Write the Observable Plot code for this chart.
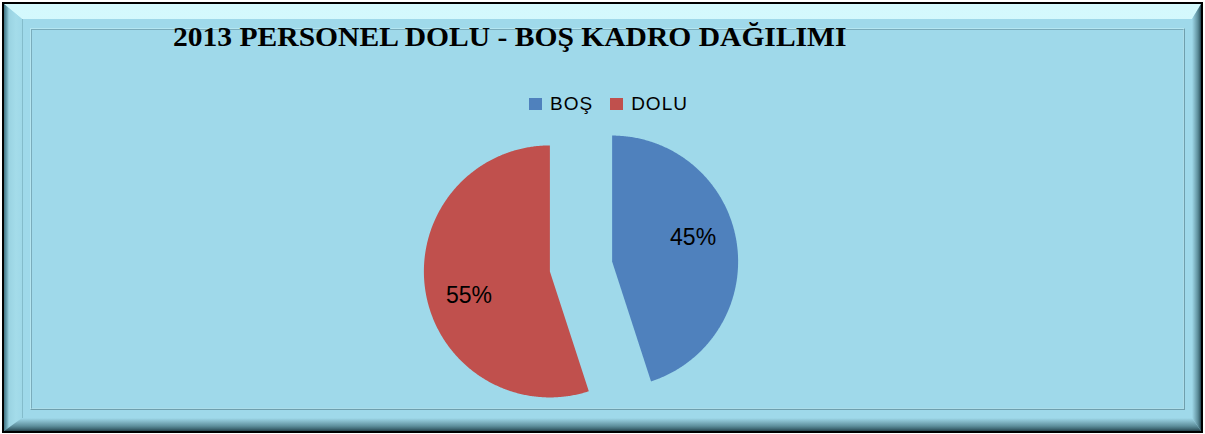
<!DOCTYPE html>
<html>
<head>
<meta charset="utf-8">
<script src="https://cdn.jsdelivr.net/npm/d3@7"></script>
<script src="https://cdn.jsdelivr.net/npm/@observablehq/plot@0.6"></script>
<style>
  html, body { margin: 0; padding: 0; background: #ffffff; }
  #wrap { position: relative; width: 1205px; height: 434px; overflow: hidden; background: #ffffff; }
  .abs { position: absolute; box-sizing: border-box; }
  #title { position: absolute; left: 173px; top: 24px; font-family: "Liberation Serif", "Times New Roman", serif; font-weight: bold; font-size: 27px; color: #000; white-space: nowrap; line-height: 1; transform: scaleX(1.095); transform-origin: 0 0; }
  #legend { position: absolute; left: 529px; top: 94px; height: 19px; display: flex; align-items: center; font-family: "Liberation Sans", Arial, sans-serif; font-size: 19px; letter-spacing: 1px; line-height: 1; color: #000; white-space: nowrap; }
  .sw { display: inline-block; width: 13px; height: 12px; margin-right: 8px; }
  .item { display: flex; align-items: center; margin-right: 17px; }
  #chart { position: absolute; left: 0; top: 0; }
</style>
</head>
<body>
<div id="wrap">
  <!-- frame -->
  <div class="abs" style="left:2px;top:2px;width:1201px;height:431px;border:2px solid #000;"></div>
  <div class="abs" style="left:4px;top:4px;width:1197px;height:427px;background:#9fd9ea;"></div>
  <div class="abs" style="left:4px;top:4px;width:1197px;height:427px;background:linear-gradient(#d4f9fd,#bff0f8);clip-path:polygon(0px 0px,1197px 0px,1188px 15px,18px 15px);"></div>
  <div class="abs" style="left:4px;top:4px;width:1197px;height:427px;background:linear-gradient(to right,#3f7382 0px,#6fa8b8 3px,#9ad3e2 5px,#a4dcea 12px,#9fd8e8 18px);clip-path:polygon(0px 0px,18px 15px,18px 414px,0px 427px);"></div>
  <div class="abs" style="left:4px;top:4px;width:1197px;height:427px;background:linear-gradient(to right,#9fd9ea 1188px,#7fb3c2 1191px,#5b8c99 1194px,#3b6470 1196px,#243f48 1197px);clip-path:polygon(1197px 0px,1197px 427px,1188px 414px,1188px 15px);"></div>
  <div class="abs" style="left:4px;top:4px;width:1197px;height:427px;background:linear-gradient(to bottom,#9fd9ea 414px,#80b4c3 418px,#5e8f9c 422px,#3e6773 425px,#26434c 427px);clip-path:polygon(0px 427px,18px 414px,1188px 414px,1197px 427px);"></div>
  <div class="abs" style="left:22px;top:19px;width:1px;height:399px;background:#84bccb;"></div>
  <div class="abs" style="left:30px;top:28px;width:1155px;height:382px;border:1px solid #b5e6f1;border-right-color:#6f9fad;border-bottom-color:#6f9fad;"></div>
  <div class="abs" style="left:31px;top:29px;width:1153px;height:380px;border:1px solid #7aacbb;border-right-color:#acdde9;border-bottom-color:#acdde9;"></div>
  <div id="title"></div>
  <div id="legend"></div>
  <div id="chart"></div>
</div>
<script>
// ---- data ----
const chartTitle = "2013 PERSONEL DOLU - BOŞ KADRO DAĞILIMI";
const categories = ["BOŞ", "DOLU"];
const values = [45, 55];
const colors = ["#4F81BD", "#C0504D"];

// ---- layout constants ----
const W = 1205, H = 434;
const CX = 580.5, CY = 266, R = 126;
const EXPLODE = 0.25;           // in radius units
const LABEL_R = 0.67;
const LABEL_SHIFT = -7.4 * Math.PI / 180;

document.getElementById("title").textContent = chartTitle;

const legend = document.getElementById("legend");
categories.forEach((c, i) => {
  const it = document.createElement("span");
  it.className = "item";
  const sw = document.createElement("span");
  sw.className = "sw";
  sw.style.background = colors[i];
  it.appendChild(sw);
  it.appendChild(document.createTextNode(c));
  legend.appendChild(it);
});

const total = d3.sum(values);
let acc = 0;
const pts = [], lbls = [];
categories.forEach((c, i) => {
  const a0 = acc / total * 2 * Math.PI;
  acc += values[i];
  const a1 = acc / total * 2 * Math.PI;
  const mid = (a0 + a1) / 2;
  const ox = EXPLODE * Math.sin(mid), oy = EXPLODE * Math.cos(mid);
  pts.push({c, x: ox, y: oy});
  const n = Math.ceil((a1 - a0) / (Math.PI / 360));
  for (let k = 0; k <= n; k++) {
    const a = a0 + (a1 - a0) * k / n;
    pts.push({c, x: ox + Math.sin(a), y: oy + Math.cos(a)});
  }
  pts.push({c, x: ox, y: oy});
  const la = mid + LABEL_SHIFT;
  lbls.push({c, text: Math.round(values[i] / total * 100) + "%", x: ox + LABEL_R * Math.sin(la), y: oy + LABEL_R * Math.cos(la)});
});

const plot = Plot.plot({
  width: W,
  height: H,
  margin: 0,
  style: {background: "transparent", overflow: "visible"},
  x: {domain: [-1, 1], range: [CX - R, CX + R], axis: null},
  y: {domain: [-1, 1], range: [CY + R, CY - R], axis: null},
  color: {domain: categories, range: colors},
  marks: [
    Plot.line(pts, {x: "x", y: "y", z: "c", fill: "c", stroke: "none", curve: "linear"}),
    Plot.text(lbls, {x: "x", y: "y", text: "text", fill: "#000", fontSize: 23, fontFamily: "Liberation Sans, Arial, sans-serif", textAnchor: "middle"})
  ]
});
document.getElementById("chart").appendChild(plot);
</script>
</body>
</html>
